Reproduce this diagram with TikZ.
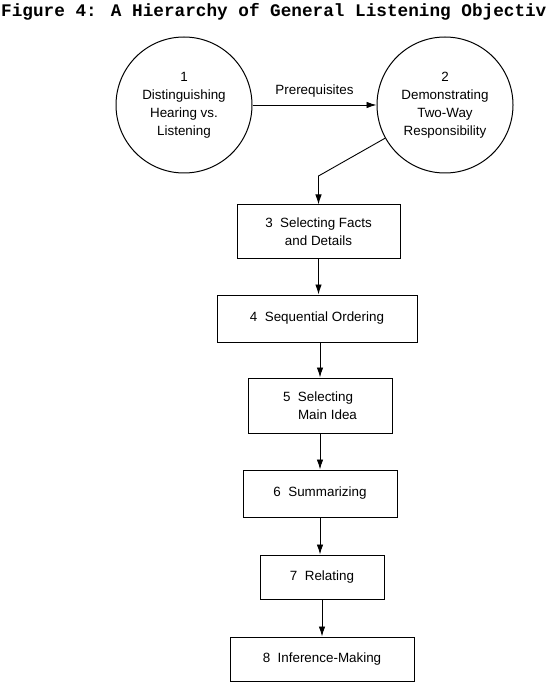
\documentclass[tikz,border=0pt]{standalone}
\usepackage{fontspec}
\setmainfont{Liberation Sans}
\newfontfamily\titlefont{Liberation Mono}
\usetikzlibrary{arrows.meta}
\tikzset{
  objcircle/.style={draw, circle, line width=1pt, minimum size=136pt, inner sep=0pt, align=center, font=\fontsize{13.4}{18}\selectfont},
  objbox/.style={draw, rectangle, line width=1pt, inner sep=0pt, align=center, font=\fontsize{13.4}{18}\selectfont},
  conn/.style={line width=0.9pt, -{Latex[length=10pt,width=6.5pt]}},
}
\begin{document}
\begin{tikzpicture}[x=1pt,y=-1pt]
\useasboundingbox (0,0) rectangle (547,700);
\node[anchor=base west, inner sep=0pt, font=\titlefont\bfseries\fontsize{17.7}{20}\selectfont] (title) at (1,17) {Figure 4: A Hierarchy of General Listening Objectiv};
\node[objcircle] (c1) at (184,105) {1\\Distinguishing\\Hearing vs.\\Listening};
\node[objcircle] (c2) at (445,105) {2\\Demonstrating\\Two-Way\\Responsibility};
\node[objbox, minimum width=163pt, minimum height=53pt] (b3) at (318.5,231.5) {3\ \ Selecting Facts\\and Details};
\node[objbox, minimum width=200pt, minimum height=47pt] (b4) at (317,318.5) {4\ \ Sequential Ordering};
\node[objbox, minimum width=144pt, minimum height=55pt, align=left] (b5) at (320,405.5) {5\ \ Selecting\\\hspace{15pt}Main Idea};
\node[objbox, minimum width=154pt, minimum height=47pt] (b6) at (320,493.5) {6\ \ Summarizing};
\node[objbox, minimum width=124pt, minimum height=44pt] (b7) at (322,577) {7\ \ Relating};
\node[objbox, minimum width=184pt, minimum height=44pt] (b8) at (322,659) {8\ \ Inference-Making};
\draw[conn] (c1) -- node[above=4pt, font=\fontsize{13.4}{16}\selectfont] (prereq) {Prerequisites} (c2);
\coordinate (bend) at (318.5,176);
\draw[conn] (c2.209) -- (bend) -- (b3.north);
\draw[conn] (b3.south) -- (b3.south |- b4.north);
\draw[conn] (b4.south -| b5.north) -- (b5.north);
\draw[conn] (b5.south) -- (b5.south |- b6.north);
\draw[conn] (b6.south) -- (b6.south |- b7.north);
\draw[conn] (b7.south) -- (b7.south |- b8.north);
\end{tikzpicture}
\end{document}
